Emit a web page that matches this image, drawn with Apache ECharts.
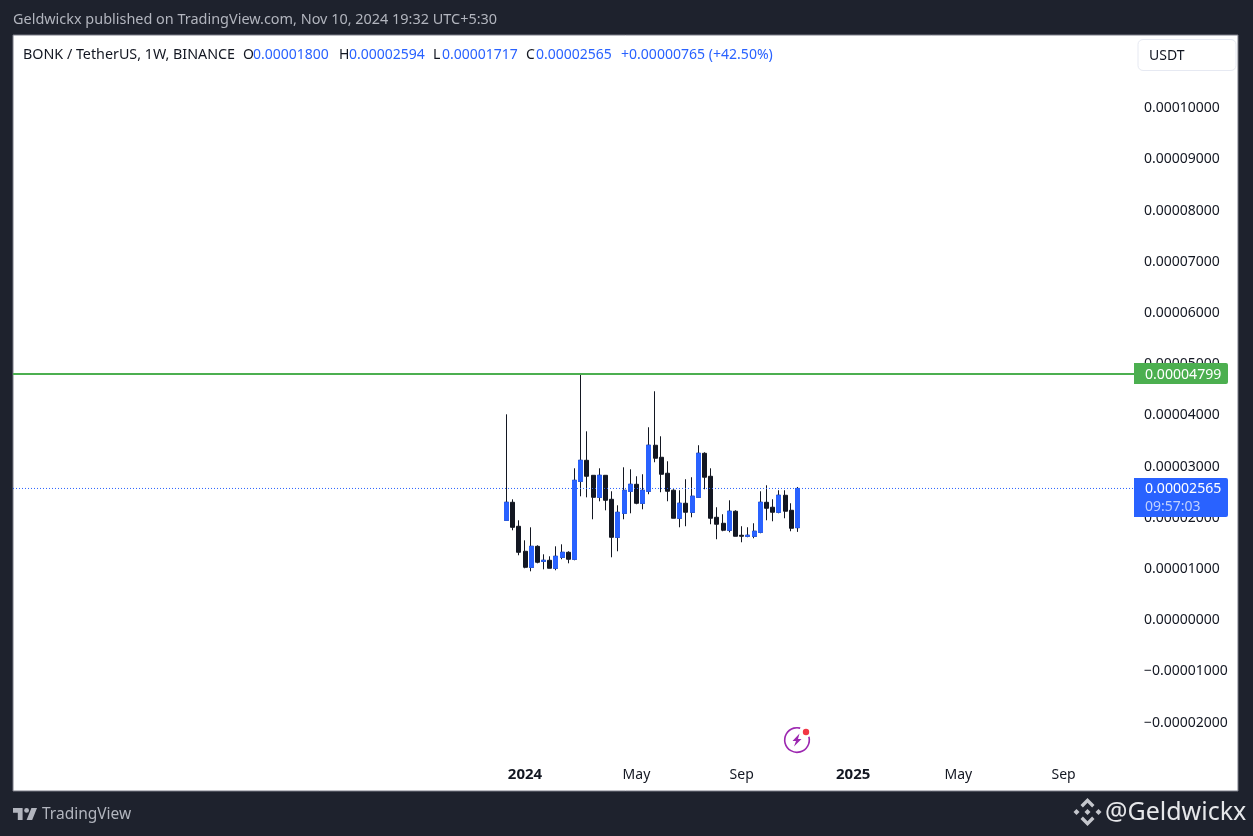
<!DOCTYPE html>
<html><head><meta charset="utf-8">
<style>html,body{margin:0;padding:0;background:#1E222D}#c{width:1253px;height:836px}</style>
<script src="https://cdn.jsdelivr.net/npm/echarts@6/dist/echarts.min.js"></script>
</head><body><div id="c"></div>
<script>
const weeks = ['2023-12-11','2023-12-18','2023-12-25','2024-01-01','2024-01-08','2024-01-15','2024-01-22','2024-01-29','2024-02-05','2024-02-12','2024-02-19','2024-02-26','2024-03-04','2024-03-11','2024-03-18','2024-03-25','2024-04-01','2024-04-08','2024-04-15','2024-04-22','2024-04-29','2024-05-06','2024-05-13','2024-05-20','2024-05-27','2024-06-03','2024-06-10','2024-06-17','2024-06-24','2024-07-01','2024-07-08','2024-07-15','2024-07-22','2024-07-29','2024-08-05','2024-08-12','2024-08-19','2024-08-26','2024-09-02','2024-09-09','2024-09-16','2024-09-23','2024-09-30','2024-10-07','2024-10-14','2024-10-21','2024-10-28','2024-11-04'];
const opens = [0.00001943,0.00002295,0.00001826,0.00001338,0.00001025,0.00001435,0.00001142,0.00001162,0.00001006,0.00001221,0.00001318,0.00001182,0.00002705,0.00003115,0.00002822,0.00002392,0.00002822,0.00002353,0.00001611,0.00002080,0.00002510,0.00002646,0.00002275,0.00002510,0.00003409,0.00003174,0.00002862,0.00002530,0.00001983,0.00002276,0.00002100,0.00002393,0.00003252,0.00002803,0.00002002,0.00001885,0.00001749,0.00002120,0.00001651,0.00001631,0.00001631,0.00001709,0.00002295,0.00002198,0.00002100,0.00002432,0.00002139,0.00001800];
const closes = [0.00002295,0.00001806,0.00001318,0.00001025,0.00001435,0.00001123,0.00001162,0.00001006,0.00001240,0.00001318,0.00001182,0.00002724,0.00003115,0.00002803,0.00002392,0.00002822,0.00002334,0.00001611,0.00002099,0.00002529,0.00002646,0.00002275,0.00002529,0.00003409,0.00003155,0.00002842,0.00002510,0.00001983,0.00002276,0.00002100,0.00002413,0.00003252,0.00002784,0.00001983,0.00001866,0.00001749,0.00002120,0.00001631,0.00001631,0.00001651,0.00001729,0.00002295,0.00002178,0.00002100,0.00002432,0.00002120,0.00001787,0.00002565];
const lows = [0.00001943,0.00001748,0.00001260,0.00001006,0.00000947,0.00001103,0.00000986,0.00001006,0.00000967,0.00001182,0.00001103,0.00001162,0.00002412,0.00002392,0.00001963,0.00002314,0.00002138,0.00001221,0.00001338,0.00001963,0.00002080,0.00002256,0.00002158,0.00002452,0.00003077,0.00002491,0.00002315,0.00001983,0.00001807,0.00001827,0.00002002,0.00002393,0.00002549,0.00001866,0.00001573,0.00001729,0.00001709,0.00001631,0.00001514,0.00001612,0.00001592,0.00001690,0.00001944,0.00001924,0.00002080,0.00001983,0.00001729,0.00001717];
const highs = [0.00004013,0.00002353,0.00001943,0.00001552,0.00001806,0.00001455,0.00001279,0.00001240,0.00001435,0.00001474,0.00001338,0.00002959,0.00004799,0.00003681,0.00002822,0.00002959,0.00002822,0.00002510,0.00002236,0.00002978,0.00002939,0.00002803,0.00002842,0.00003760,0.00004463,0.00003584,0.00003096,0.00002549,0.00002530,0.00002745,0.00002784,0.00003409,0.00003272,0.00002959,0.00002198,0.00002061,0.00002334,0.00002139,0.00001827,0.00001807,0.00001885,0.00002510,0.00002627,0.00002354,0.00002530,0.00002530,0.00002276,0.00002594];
const priceTicks = [-0.00002,-0.00001,0,0.00001,0.00002,0.00003,0.00004,0.00005,0.00006,0.00007,0.00008,0.00009,0.0001];
const timeTicks = ['2024-01-01','2024-05-06','2024-09-02','2025-01-06','2025-05-05','2025-09-01'];
const highPrice = 0.00004799;
const lastPrice = 0.00002565;
const UP = '#2962FF', DOWN = '#131722', GREEN = '#4CAF50';
const FONT = '"Noto Sans", sans-serif';
const ms = s => Date.parse(s+'T00:00:00Z');
const xMin = ms('2022-06-01'), xMax = ms('2025-11-23');

const allCandles = weeks.map((d,i)=>[ms(d),opens[i],closes[i],lows[i],highs[i]]);
const upBodies = weeks.map((d,i)=>closes[i]>opens[i]?[ms(d),opens[i],closes[i],opens[i],closes[i]]:[ms(d),'-','-','-','-']);
const fmtPrice = v => (v<0?'\u2212':'')+Math.abs(v).toFixed(8);

const chart = echarts.init(document.getElementById('c'),null,{renderer:'canvas'});
const text=(x,y,s,fill,size,extra)=>({type:'text',z:100,x,y,silent:true,style:Object.assign({text:s,fill,font:(size||14)+'px '+FONT,verticalAlign:'middle',align:'left'},extra||{})});
const poly=(pts,fill)=>({type:'polygon',z:100,silent:true,shape:{points:pts},style:{fill}});
const tv=(x,y)=>[13-1.6+x*0.8,808-4.8+y*0.8];
const bn=(x,y)=>[1087.5+x,812+y];
const BLUE_T='#2962FF';
const staticGraphics=[
 {type:'rect',z:-10,silent:true,shape:{x:13,y:35,width:1225,height:756},style:{fill:'#fff',stroke:'#787B86',lineWidth:1}},
 text(13,20,'Geldwickx published on TradingView.com, Nov 10, 2024 19:32 UTC+5:30','#B2B5BE',14.45),
 text(23,55,'BONK / TetherUS, 1W, BINANCE',DOWN,14.3),
 text(243,55,'O',DOWN,14),text(253,55,'0.00001800',BLUE_T,14),
 text(339,55,'H',DOWN,14),text(349,55,'0.00002594',BLUE_T,14),
 text(433,55,'L',DOWN,14),text(442,55,'0.00001717',BLUE_T,14),
 text(526,55,'C',DOWN,14),text(536,55,'0.00002565',BLUE_T,14),
 text(621,55,'+0.00000765 (+42.50%)',BLUE_T,14.05),
 {type:'rect',z:100,silent:true,shape:{x:1138,y:39.5,width:98,height:31,r:5},style:{fill:'#fff',stroke:'#E6E9F2',lineWidth:1}},
 text(1149,56,'USDT',DOWN,14),
 poly([tv(2,6),tv(14,6),tv(14,21),tv(8,21),tv(8,12),tv(2,12)],'#B2B5BE'),
 poly([tv(19,21),tv(26,21),tv(32,6),tv(25,6)],'#B2B5BE'),
 {type:'circle',z:100,silent:true,shape:{cx:tv(19,9)[0],cy:tv(19,9)[1],r:2.4},style:{fill:'#B2B5BE'}},
 text(42,815,'TradingView','#B2B5BE',15.5),
 poly([bn(0,-14),bn(7,-7),bn(4.6,-4.6),bn(0,-9.2),bn(-4.6,-4.6),bn(-7,-7)],'#C4C6CC'),
 poly([bn(0,14),bn(7,7),bn(4.6,4.6),bn(0,9.2),bn(-4.6,4.6),bn(-7,7)],'#C4C6CC'),
 poly([bn(0,-3),bn(3,0),bn(0,3),bn(-3,0)],'#C4C6CC'),
 poly([bn(-11,-3),bn(-8,0),bn(-11,3),bn(-14,0)],'#C4C6CC'),
 poly([bn(11,-3),bn(14,0),bn(11,3),bn(8,0)],'#C4C6CC'),
 text(1105,813,'@Geldwickx','#E6E7EA',25),
 {type:'arc',z:100,silent:true,shape:{cx:797,cy:740,r:12.3,startAngle:-15*Math.PI/180,endAngle:285*Math.PI/180,clockwise:true},style:{fill:'none',stroke:'#9C27B0',lineWidth:1.6}},
 {type:'circle',z:100,silent:true,shape:{cx:806,cy:732,r:3.2},style:{fill:'#F23645'}},
 poly([[799.5,733.5],[792.5,741],[796,741],[794,746.5],[801.5,739],[798,739]],'#9C27B0')
];

chart.setOption({
 animation:false,
 backgroundColor:'#1E222D',
 grid:{left:13,right:116,top:36,height:755,containLabel:false},
 xAxis:{type:'value',min:xMin,max:xMax,
  axisLine:{show:false},axisTick:{show:false},splitLine:{show:false},
  axisLabel:{inside:true,margin:9,customValues:timeTicks.map(ms),hideOverlap:false,
   formatter:v=>{const d=new Date(v);return d.getUTCMonth()===0?'{y|'+d.getUTCFullYear()+'}':'{m|'+['Jan','Feb','Mar','Apr','May','Jun','Jul','Aug','Sep','Oct','Nov','Dec'][d.getUTCMonth()]+'}';},
   rich:{y:{fontFamily:FONT,fontSize:15,fontWeight:'bold',color:DOWN},m:{fontFamily:FONT,fontSize:14,color:DOWN}}}},
 yAxis:{type:'value',position:'right',min:-0.00003344,max:0.00011402,
  axisLine:{show:false},axisTick:{show:false},splitLine:{show:false},
  axisLabel:{customValues:priceTicks,margin:7,align:'left',formatter:v=>'{p|'+fmtPrice(v)+'}',
   rich:{p:{color:DOWN,fontFamily:FONT,fontSize:14,padding:[1,0,0,0]}}}},
 series:[
  {name:'Last price',type:'line',silent:true,showSymbol:false,data:[[xMin,lastPrice],[xMax,lastPrice]],lineStyle:{color:UP,width:1,type:[1,2]}},
  {name:'Highest high',type:'line',silent:true,showSymbol:false,data:[[xMin,highPrice],[xMax,highPrice]],lineStyle:{color:GREEN,width:2}},
  {name:'BONK/USDT',type:'candlestick',barWidth:4.5,data:allCandles,silent:true,
   itemStyle:{color:DOWN,color0:DOWN,borderColor:DOWN,borderColor0:DOWN,borderWidth:1}},
  {name:'Up bodies',type:'candlestick',barWidth:4.5,data:upBodies,silent:true,
   itemStyle:{color:UP,color0:UP,borderColor:UP,borderColor0:UP,borderWidth:1}}
 ],
 graphic:{elements:staticGraphics.map((e,i)=>Object.assign({id:'g'+i},e))}
});

const yHigh=chart.convertToPixel({yAxisIndex:0},highPrice);
const yLast=chart.convertToPixel({yAxisIndex:0},lastPrice);
const labelGraphics=[
 {type:'rect',z:110,silent:true,shape:{x:1134,y:Math.round(yHigh)-11,width:94,height:21,r:[0,2,2,0]},style:{fill:GREEN}},
 Object.assign(text(1145,yHigh+0.5,fmtPrice(highPrice),'#fff',14.1),{z:111}),
 {type:'rect',z:110,silent:true,shape:{x:1134,y:Math.round(yLast)-10,width:94,height:39,r:[0,2,2,0]},style:{fill:UP}},
 Object.assign(text(1145,yLast+1,fmtPrice(lastPrice),'#fff',14.1),{z:111}),
 Object.assign(text(1145,yLast+18.5,'09:57:03','#BFD0FF',14),{z:111})
];
chart.setOption({graphic:{elements:labelGraphics.map((e,i)=>Object.assign({id:'lbl'+i},e))}});
</script></body></html>
